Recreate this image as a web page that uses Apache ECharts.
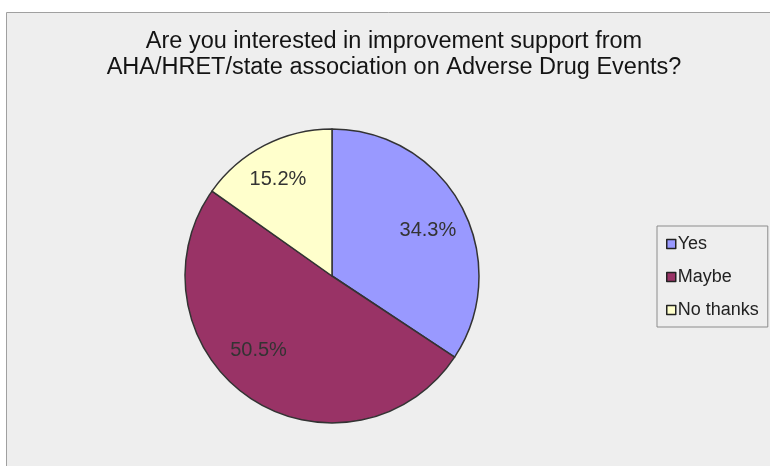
<!DOCTYPE html>
<html>
<head>
<meta charset="utf-8">
<script src="https://cdn.jsdelivr.net/npm/echarts@6/dist/echarts.min.js"></script>
<style>
  html, body { margin: 0; padding: 0; background: #ffffff; }
  #chart { width: 770px; height: 466px; }
</style>
</head>
<body>
<div id="chart"></div>
<script>
// Survey answers and their shares (percent)
const categories = ['Yes', 'Maybe', 'No thanks'];
const shares = [34.3, 50.5, 15.2];
const sliceColors = ['#9999FF', '#993366', '#FFFFCC'];
const titleText = 'Are you interested in improvement support from\nAHA/HRET/state association on Adverse Drug Events?';

const FONT = '"Liberation Sans", Arial, sans-serif';
const CX = 332, CY = 276, R = 147;

// nudges for the value labels, per slice
const labelNudges = [[0, 6], [-12, -15], [-4, 0]];

const chart = echarts.init(document.getElementById('chart'), null, { renderer: 'canvas' });

chart.setOption({
  backgroundColor: '#ffffff',
  animation: false,
  graphic: [{
    type: 'rect',
    z: -10,
    shape: { x: 6.5, y: 12.5, width: 800, height: 500 },
    style: { fill: '#eeeeee', stroke: '#a0a0a0', lineWidth: 1 }
  }],
  title: {
    text: titleText,
    left: 389,
    top: 24,
    textAlign: 'center',
    textStyle: {
      fontFamily: FONT,
      fontSize: 23.5,
      fontWeight: 'normal',
      color: '#141414',
      lineHeight: 26
    }
  },
  legend: {
    orient: 'vertical',
    left: 657,
    top: 226,
    padding: [9, 9, 8, 9],
    itemGap: 15,
    itemWidth: 9,
    itemHeight: 9,
    icon: 'rect',
    borderColor: '#8c8c8c',
    borderWidth: 1,
    data: categories,
    itemStyle: { borderColor: '#222222', borderWidth: 1.5 },
    textStyle: { fontFamily: FONT, fontSize: 18, color: '#222222', padding: [0, 0, 0, -3] }
  },
  series: [
    {
      type: 'pie',
      center: [CX, CY],
      radius: R,
      startAngle: 90,
      clockwise: true,
      data: categories.map((name, i) => ({
        name,
        value: shares[i],
        itemStyle: { color: sliceColors[i] }
      })),
      itemStyle: { borderColor: '#333333', borderWidth: 1.5 },
      label: { show: false },
      labelLine: { show: false },
      emphasis: { disabled: true }
    },
    {
      // transparent ring that only carries the value labels further out
      type: 'pie',
      center: [CX, CY],
      radius: [R * 0.44, R],
      startAngle: 90,
      clockwise: true,
      silent: true,
      data: categories.map((name, i) => ({
        name,
        value: shares[i],
        label: { offset: labelNudges[i] }
      })),
      itemStyle: { color: 'rgba(0,0,0,0)', borderWidth: 0 },
      label: {
        show: true,
        position: 'inside',
        formatter: p => p.value.toFixed(1) + '%',
        fontFamily: FONT,
        fontSize: 20,
        color: '#333333'
      },
      labelLine: { show: false },
      emphasis: { disabled: true }
    }
  ]
});
</script>
</body>
</html>
